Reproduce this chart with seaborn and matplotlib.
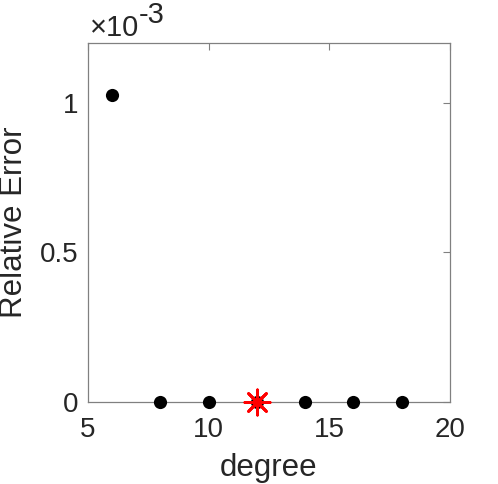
import matplotlib
matplotlib.use("Agg")
import matplotlib.pyplot as plt
import seaborn as sns
import pandas as pd
from matplotlib.ticker import FuncFormatter

degree = [6, 8, 10, 12, 14, 16, 18]
rel_error = [1.025e-3, 1.5e-6, 1.0e-6, 8e-7, 6e-7, 5e-7, 4e-7]
best_degree = [12]
best_error = [8e-7]
x_ticks = [5, 10, 15, 20]
y_ticks = [0, 0.5e-3, 1.0e-3]
y_scale_exp = -3

sns.set_theme(style="white")
plt.rcParams['font.family'] = ['Liberation Sans', 'DejaVu Sans']

txt = '#262626'
edge = '#808080'

fig = plt.figure(figsize=(4.98, 4.84), dpi=100)
ax = fig.add_axes([0.1767, 0.1694, 0.9036 - 0.1767, 0.9112 - 0.1694])

df = pd.DataFrame({'degree': degree, 'err': rel_error})
sns.scatterplot(data=df, x='degree', y='err', ax=ax, color='black', s=90,
                edgecolor='black', linewidth=0, zorder=3, clip_on=False)
best = pd.DataFrame({'degree': best_degree, 'err': best_error})
sns.scatterplot(data=best, x='degree', y='err', ax=ax, color='red', marker=(8, 2, 0),
                s=330, linewidth=2.0, edgecolor='red', zorder=4, clip_on=False)

ax.set_xlim(5, 20)
ax.set_ylim(0, 1.2e-3)
ax.set_xticks(x_ticks)
ax.set_yticks(y_ticks)
ax.yaxis.set_major_formatter(FuncFormatter(lambda v, p: f"{v / 10**y_scale_exp:g}"))

for s in ax.spines.values():
    s.set_visible(True)
    s.set_color(edge)
    s.set_linewidth(0.9)
ax.tick_params(direction='in', length=5, width=0.8, color=edge, top=True, right=True,
               labelsize=20, labelcolor=txt)
ax.tick_params(axis='x', pad=11)
ax.tick_params(axis='y', pad=7)

ax.set_xlabel('degree', fontsize=22.5, color=txt, labelpad=7)
ax.set_ylabel('Relative Error', fontsize=22.5, color=txt, labelpad=8)
t1 = ax.text(0.005, 1.0195, '×10', transform=ax.transAxes,
             fontsize=21, color=txt, ha='left', va='baseline')
ax.annotate(str(y_scale_exp), xy=(1, 0), xycoords=t1, xytext=(0, 9.4),
            textcoords='offset points', fontsize=21, color=txt,
            ha='left', va='bottom')
ax.grid(False)

fig.savefig('out.png', dpi=100)
